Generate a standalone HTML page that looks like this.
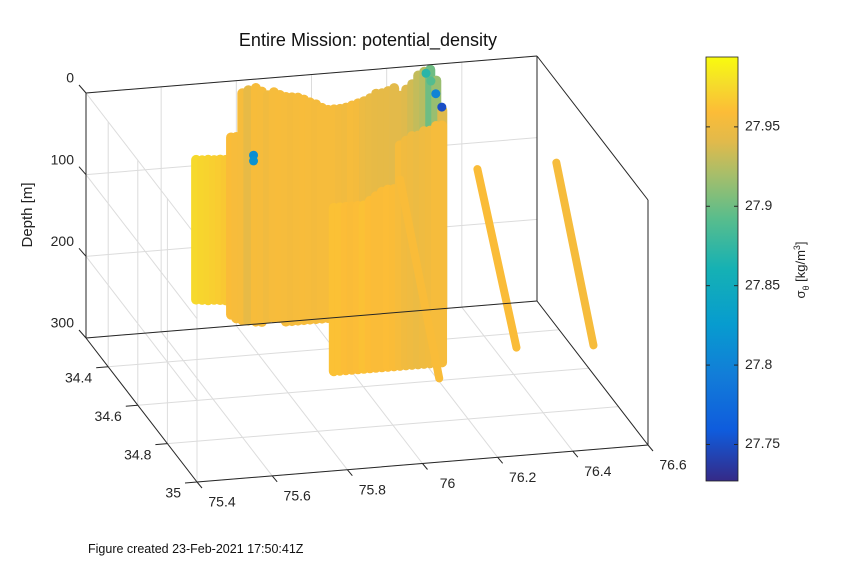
<!DOCTYPE html>
<html><head><meta charset="utf-8"><style>
body{margin:0;background:#fff;}
svg{display:block;font-family:"Liberation Sans",sans-serif;}
</style></head><body>
<svg id="chart" width="851" height="567" viewBox="0 0 851 567">
<rect width="851" height="567" fill="#fff"/>
<g id="grid"></g>
<g id="marks"></g>
<g id="axes"></g>
<text x="368" y="46" font-size="18" text-anchor="middle" fill="#111">Entire Mission: potential_density</text>
<text x="32" y="215" font-size="15" text-anchor="middle" fill="#222" transform="rotate(-90 32 215)">Depth [m]</text>
<text x="88" y="553" font-size="12.5" fill="#111">Figure created 23-Feb-2021 17:50:41Z</text>
<defs><linearGradient id="cb" x1="0" y1="1" x2="0" y2="0"></linearGradient></defs>
<rect x="706" y="57" width="32" height="424" fill="url(#cb)" stroke="#222" stroke-width="0.8"/>
<g id="cbticks"></g>
<text x="805" y="270" font-size="13" text-anchor="middle" fill="#222" transform="rotate(-90 805 270)">σ<tspan font-size="9" dy="4">θ</tspan><tspan dy="-4"> [kg/m</tspan><tspan font-size="9" dy="-5">3</tspan><tspan dy="5">]</tspan></text>
</svg>
<script>
const lonTicks=[75.4,75.6,75.8,76,76.2,76.4,76.6];
const latTicks=[34.4,34.6,34.8,35];
const depthTicks=[0,100,200,300];
const cbTicks=[27.75,27.8,27.85,27.9,27.95];
// profiles: vertical casts
const profLon=[75.693,75.709,75.725,75.741,75.757,75.772,
 75.786,75.800,75.816,75.832,75.852,75.868,75.884,75.900,75.916,75.932,75.948,75.964,75.980,75.996,76.012,76.028,76.044,
 76.060,76.076,76.092,76.108,76.124,76.140,76.156,76.172,76.188,76.204,76.220,
 76.236,76.252,76.268,76.284,76.300,76.316,76.332,76.348,
 75.956,75.972,75.988,76.004,76.020,76.036,76.052,76.068,76.084,76.100,76.116,
 76.132,76.148,76.164,76.180,76.196,76.212,76.228,76.244];
const profLat=[34.25,34.25,34.25,34.25,34.25,34.25,
 34.25,34.25,34.25,34.25,34.25,34.25,34.25,34.25,34.25,34.25,34.25,34.25,34.25,34.25,34.25,34.25,34.25,
 34.25,34.25,34.25,34.25,34.25,34.25,34.25,34.25,34.25,34.25,34.25,
 34.25,34.25,34.25,34.25,34.25,34.25,34.25,34.25,
 34.5125,34.5125,34.5125,34.5125,34.5125,34.5125,34.5125,34.5125,34.5125,34.5125,34.5125,
 34.5125,34.5125,34.5125,34.5125,34.5125,34.5125,34.5125,34.5125];
const profTop=[93,94,94,95,95,96,
 69,69,16,13,11,16,21,18,22,25,26,27,30,34,37,42,45,
 45,45,44,42,40,38,35,30,30,28,25,
 35,28,22,12,8,6,20,57,
 100,100,100,100,100,100,95,90,85,83,83,
 30,25,20,20,15,15,10,10];
const profBot=[264,265,266,266,267,268,
 286,291,294,295,297,298,294,294,295,300,300,300,300,300,300,300,300,
 300,300,300,300,300,300,300,300,300,300,300,
 300,300,300,300,300,300,300,300,
 300,300,300,300,300,300,300,300,300,300,300,
 300,300,300,300,300,300,300,300];
const profVal=[27.975,27.973,27.972,27.97,27.968,27.966,
 27.958,27.956,27.955,27.945,27.956,27.955,27.952,27.955,27.956,27.955,27.954,27.955,27.956,27.955,27.954,27.955,27.955,
 27.955,27.953,27.952,27.955,27.954,27.948,27.946,27.945,27.944,27.944,27.942,
 27.942,27.94,27.935,27.93,27.925,27.9,27.915,27.94,
 27.962,27.962,27.96,27.958,27.96,27.962,27.96,27.958,27.958,27.96,27.958,
 27.955,27.952,27.95,27.948,27.95,27.952,27.955,27.955];
// glider transects (sloping)
const trLon0=[76.145,76.28,76.49];
const trLat0=[34.48,34.66,34.66];
const trD0=[80,30,30];
const trLon1=[76.206,76.38,76.577];
const trLat1=[34.59,34.67,34.69];
const trD1=[300,250,250];
const trVal=[27.957,27.958,27.955];
// isolated points
const ptLon=[75.83,75.83,76.315,76.331,76.289,76.302];
const ptLat=[34.29,34.29,34.29,34.29,34.29,34.29];
const ptDepth=[83,90,26,43,0,10];
const ptVal=[27.81,27.815,27.8,27.75,27.87,27.89];

const NS='http://www.w3.org/2000/svg';
const cmin=27.727,cmax=27.994;
function P(lon,lat,d){const u=(lon-75.4)/1.2,v=(lat-34.25)/0.75,w=d/300;
 return [86+451*u+111*v, 93-37*u+144*v+245*w];}
const stops=[[0,53,42,135],[0.12,15,92,221],[0.25,18,125,216],[0.37,7,156,207],[0.5,21,177,180],[0.62,89,189,140],[0.72,165,190,107],[0.8,225,186,75],[0.87,252,188,55],[0.94,245,222,42],[1,249,251,14]];
function cmap(val){let t=(val-cmin)/(cmax-cmin);t=Math.max(0,Math.min(1,t));
 for(let i=1;i<stops.length;i++){if(t<=stops[i][0]){const a=stops[i-1],b=stops[i],f=(t-a[0])/(b[0]-a[0]);
 return `rgb(${Math.round(a[1]+f*(b[1]-a[1]))},${Math.round(a[2]+f*(b[2]-a[2]))},${Math.round(a[3]+f*(b[3]-a[3]))})`;}}return 'rgb(249,251,14)';}
function el(tag,attrs,parent){const e=document.createElementNS(NS,tag);for(const k in attrs)e.setAttribute(k,attrs[k]);parent.appendChild(e);return e;}
function line(a,b,stroke,sw,parent){return el('line',{x1:a[0],y1:a[1],x2:b[0],y2:b[1],stroke:stroke,'stroke-width':sw},parent);}
const grid=document.getElementById('grid'),axes=document.getElementById('axes'),marks=document.getElementById('marks');
const gc='#dcdcdc';
lonTicks.forEach(lo=>{
 let g1=line(P(lo,34.25,0),P(lo,34.25,300),gc,1,grid);
 
 let g2=line(P(lo,34.25,300),P(lo,35,300),gc,1,grid);
 
});
latTicks.forEach(la=>{
 let g1=line(P(75.4,la,300),P(76.6,la,300),gc,1,grid);
 
 let g2=line(P(75.4,la,0),P(75.4,la,300),gc,1,grid);
 
});
depthTicks.forEach(d=>{
 let g1=line(P(75.4,34.25,d),P(76.6,34.25,d),gc,1,grid);
 
 let g2=line(P(75.4,34.25,d),P(75.4,35,d),gc,1,grid);
 
});
// marks (draw back-to-front by latitude)
const order=profLon.map((_,i)=>i).sort((a,b)=>profLat[a]-profLat[b]);
order.forEach(i=>{
 const a=P(profLon[i],profLat[i],profTop[i]),b=P(profLon[i],profLat[i],profBot[i]);
 const m=line(a,b,cmap(profVal[i]),10,marks);m.setAttribute('stroke-linecap','round');
 
 
});
for(let i=0;i<trLon0.length;i++){
 const a=P(trLon0[i],trLat0[i],trD0[i]),b=P(trLon1[i],trLat1[i],trD1[i]);
 const m=line(a,b,cmap(trVal[i]),8,marks);m.setAttribute('stroke-linecap','round');
 
 
}
for(let i=0;i<ptLon.length;i++){
 const p=P(ptLon[i],ptLat[i],ptDepth[i]);
 const c=el('circle',{cx:p[0],cy:p[1],r:4.5,fill:cmap(ptVal[i])},marks);
 
 
}
// box edges
const ax='#262626';
[[P(75.4,34.25,0),P(76.6,34.25,0)],[P(75.4,34.25,0),P(75.4,34.25,300)],[P(76.6,34.25,0),P(76.6,34.25,300)],
 [P(76.6,34.25,0),P(76.6,35,0)],[P(76.6,35,0),P(76.6,35,300)],[P(75.4,35,300),P(76.6,35,300)],
 [P(75.4,34.25,300),P(75.4,35,300)],[P(75.4,34.25,300),P(76.6,34.25,300)],[P(76.6,34.25,300),P(76.6,35,300)]].forEach(s=>{
 const l=line(s[0],s[1],ax,1,axes);
 
 
});
function txt(x,y,s,anchor,parent){const t=el('text',{x:x,y:y,'font-size':14,'text-anchor':anchor,fill:'#262626','dominant-baseline':'middle'},parent);t.textContent=s;return t;}
lonTicks.forEach(lo=>{const p=P(lo,35,300);
 const tk=line(p,[p[0]+5,p[1]+6],ax,1,axes);
 const t=txt(p[0]+25,p[1]+21,String(lo),'middle',axes);
 
 });
latTicks.forEach(la=>{const p=P(75.4,la,300);
 const tk=line(p,[p[0]-12,p[1]+1],ax,1,axes);
 const t=txt(p[0]-16,p[1]+12,String(la),'end',axes);
 
 });
depthTicks.forEach(d=>{const p=P(75.4,34.25,d);
 const tk=line(p,[p[0]-7,p[1]-8],ax,1,axes);
 const t=txt(p[0]-12,p[1]-14,String(d),'end',axes);
 
 });
// colorbar
const grad=document.getElementById('cb');
stops.forEach(s=>{el('stop',{offset:s[0],'stop-color':`rgb(${s[1]},${s[2]},${s[3]})`},grad);});
const cbg=document.getElementById('cbticks');
cbTicks.forEach(v=>{const y=481-(v-cmin)/(cmax-cmin)*424;
 const a=line([706,y],[710,y],ax,1,cbg);
 const b=line([734,y],[738,y],ax,1,cbg);
 const t=txt(745,y,v.toFixed(2).replace(/0$/,''),'start',cbg);
 
 });
</script>
</body></html>
